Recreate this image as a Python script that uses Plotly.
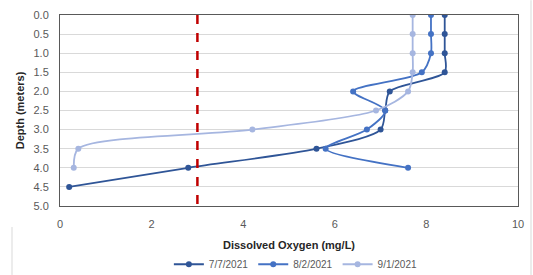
import plotly.graph_objects as go

depth_7_7 = [0.0, 0.5, 1.0, 1.5, 2.0, 2.5, 3.0, 3.5, 4.0, 4.5]
do_7_7 = [8.4, 8.4, 8.4, 8.4, 7.2, 7.1, 7.0, 5.6, 2.8, 0.2]

depth_8_2 = [0.0, 0.5, 1.0, 1.5, 2.0, 2.5, 3.0, 3.5, 4.0]
do_8_2 = [8.1, 8.1, 8.1, 7.9, 6.4, 7.1, 6.7, 5.8, 7.6]

depth_9_1 = [0.0, 0.5, 1.0, 1.5, 2.0, 2.5, 3.0, 3.5, 4.0]
do_9_1 = [7.7, 7.7, 7.7, 7.7, 7.6, 6.9, 4.2, 0.4, 0.3]

series_names = ["7/7/2021", "8/2/2021", "9/1/2021"]
threshold = 3

colors = ["#2F5597", "#4472C4", "#A6B6E0"]
font_family = "Liberation Sans, Arial, sans-serif"

fig = go.Figure()
for name, xs, ys, c in zip(series_names, [do_7_7, do_8_2, do_9_1],
                           [depth_7_7, depth_8_2, depth_9_1], colors):
    fig.add_trace(go.Scatter(
        x=xs, y=ys, name=name, mode="lines+markers",
        line=dict(color=c, width=1.8, shape="spline", smoothing=0.8),
        marker=dict(color=c, size=6),
    ))

fig.add_shape(type="line", xref="x", yref="y", x0=threshold, x1=threshold,
              y0=0, y1=5, line=dict(color="#C00000", width=2.5, dash="dash"))

# outer chart border fragments
PW, PH = 458, 191.2
fig.add_shape(type="line", xref="paper", yref="paper",
              x0=(531 - 60) / PW, x1=(531 - 60) / PW, y0=-69 / PH, y1=(206 - 0) / PH,
              line=dict(color="#D9D9D9", width=1))
fig.add_shape(type="line", xref="paper", yref="paper",
              x0=(12 - 60) / PW, x1=(12 - 60) / PW, y0=-69 / PH, y1=-21 / PH,
              line=dict(color="#D9D9D9", width=1))

fig.update_layout(
    width=533, height=275,
    margin=dict(l=60, r=15, t=14.5, b=69, autoexpand=False),
    paper_bgcolor="white", plot_bgcolor="white",
    font=dict(family=font_family, size=11, color="#595959"),
    showlegend=True,
    legend=dict(orientation="h", x=0.515, xanchor="center", y=-0.305,
                yanchor="middle", font=dict(size=10, color="#595959"),
                itemwidth=30, tracegroupgap=0, bgcolor="rgba(0,0,0,0)"),
    xaxis=dict(range=[0, 10], dtick=2, showgrid=False, zeroline=False,
               showline=True, linecolor="#595959", linewidth=1, mirror=True,
               automargin=False,
               ticks="", ticklabelstandoff=8, tickfont=dict(size=11, color="#595959"),
               title=dict(text="<b>Dissolved Oxygen (mg/L)</b>", standoff=12,
                          font=dict(size=11, color="#262626"))),
    yaxis=dict(range=[5, 0], dtick=0.5, tickformat=".1f", showgrid=True,
               gridcolor="#D9D9D9", gridwidth=1, zeroline=False,
               showline=True, linecolor="#595959", linewidth=1, mirror=True,
               automargin=False,
               ticks="", ticklabelstandoff=8, tickfont=dict(size=11, color="#595959"),
               title=dict(text="<b>Depth (meters)</b>", standoff=6,
                          font=dict(size=11, color="#262626"))),
)

fig.write_html("out.html", config={"displayModeBar": False},
               post_script="document.body.style.margin='0';")
